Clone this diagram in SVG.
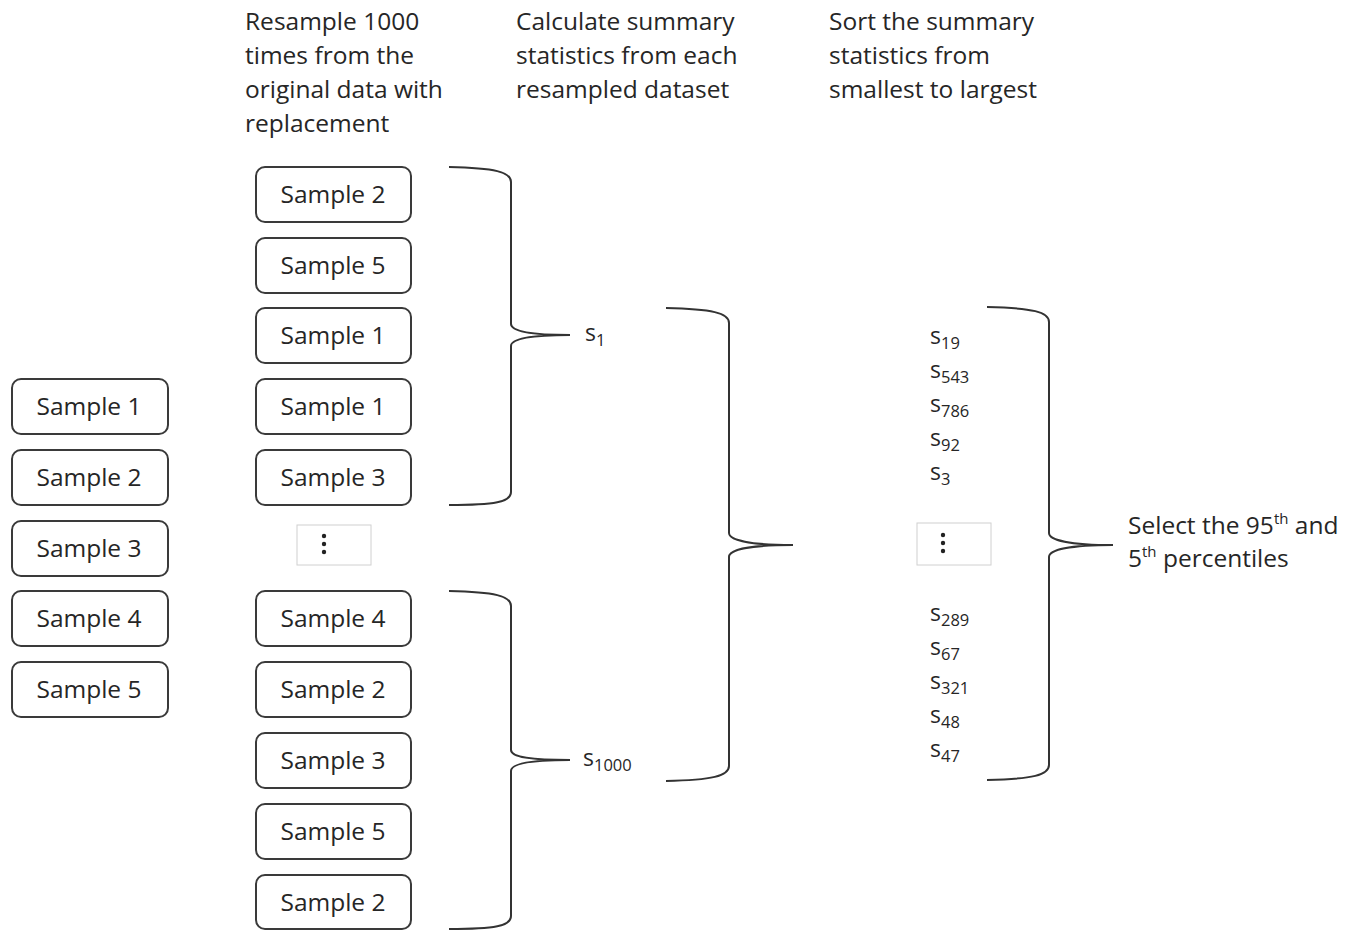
<svg xmlns="http://www.w3.org/2000/svg" width="1363" height="930" viewBox="0 0 1363 930">
<style>
text{font-family:"Open Sans","Liberation Sans",sans-serif;fill:#262626}
.h{font-size:24.5px}
.b{font-size:24.5px;text-anchor:middle}
.s{font-size:23px}
.sub{font-size:16.5px}
.box{fill:#fff;stroke:#3a3a3a;stroke-width:2}
.dbox{fill:#fff;stroke:#d0d0d0;stroke-width:1}
.br{fill:none;stroke:#333;stroke-width:2}
</style>
<rect width="1363" height="930" fill="#fff"/>
<g id="headers">
<text class="h" x="245" y="30">Resample 1000</text>
<text class="h" x="245" y="64">times from the</text>
<text class="h" x="245" y="98">original data with</text>
<text class="h" x="245" y="132">replacement</text>
<text class="h" x="516" y="30">Calculate summary</text>
<text class="h" x="516" y="64">statistics from each</text>
<text class="h" x="516" y="98">resampled dataset</text>
<text class="h" x="829" y="30">Sort the summary</text>
<text class="h" x="829" y="64">statistics from</text>
<text class="h" x="829" y="98">smallest to largest</text>
</g>
<g id="original">
<g id="o1"><rect class="box" x="12" y="379" width="156" height="55" rx="9"/><text class="b" x="89" y="415">Sample 1</text></g>
<g id="o2"><rect class="box" x="12" y="450" width="156" height="55" rx="9"/><text class="b" x="89" y="486">Sample 2</text></g>
<g id="o3"><rect class="box" x="12" y="521" width="156" height="55" rx="9"/><text class="b" x="89" y="557">Sample 3</text></g>
<g id="o4"><rect class="box" x="12" y="591" width="156" height="55" rx="9"/><text class="b" x="89" y="627">Sample 4</text></g>
<g id="o5"><rect class="box" x="12" y="662" width="156" height="55" rx="9"/><text class="b" x="89" y="698">Sample 5</text></g>
</g>
<g id="resampled">
<g id="r1"><rect class="box" x="256" y="167" width="155" height="55" rx="9"/><text class="b" x="333" y="203">Sample 2</text></g>
<g id="r2"><rect class="box" x="256" y="238" width="155" height="55" rx="9"/><text class="b" x="333" y="274">Sample 5</text></g>
<g id="r3"><rect class="box" x="256" y="308" width="155" height="55" rx="9"/><text class="b" x="333" y="344">Sample 1</text></g>
<g id="r4"><rect class="box" x="256" y="379" width="155" height="55" rx="9"/><text class="b" x="333" y="415">Sample 1</text></g>
<g id="r5"><rect class="box" x="256" y="450" width="155" height="55" rx="9"/><text class="b" x="333" y="486">Sample 3</text></g>
<g id="rdots"><rect class="dbox" x="297" y="525" width="74" height="40"/><circle cx="324" cy="536" r="2.2" fill="#222"/><circle cx="324" cy="544" r="2.2" fill="#222"/><circle cx="324" cy="552" r="2.2" fill="#222"/></g>
<g id="r6"><rect class="box" x="256" y="591" width="155" height="55" rx="9"/><text class="b" x="333" y="627">Sample 4</text></g>
<g id="r7"><rect class="box" x="256" y="662" width="155" height="55" rx="9"/><text class="b" x="333" y="698">Sample 2</text></g>
<g id="r8"><rect class="box" x="256" y="733" width="155" height="55" rx="9"/><text class="b" x="333" y="769">Sample 3</text></g>
<g id="r9"><rect class="box" x="256" y="804" width="155" height="55" rx="9"/><text class="b" x="333" y="840">Sample 5</text></g>
<g id="r10"><rect class="box" x="256" y="875" width="155" height="54" rx="9"/><text class="b" x="333" y="911">Sample 2</text></g>
</g>
<g id="connectors">
<path class="br" d="M449,167 C495,168 511,172 511,182 L511,324 C511,331 530,335 570,335 C530,335 511,339 511,346 L511,492 C511,502 495,505 449,505"/>
<path class="br" d="M449,591 C495,592 511,596 511,606 L511,750 C511,757 530,760 570,760 C530,760 511,764 511,771 L511,916 C511,926 495,929 449,929"/>
<path class="br" d="M666,308 C712,309 729,313 729,323 L729,533 C729,540 750,545 793,545 C750,545 729,550 729,557 L729,766 C729,776 712,780 666,781"/>
<path class="br" d="M987,307 C1033,308 1049,312 1049,322 L1049,533 C1049,540 1070,545 1113,545 C1070,545 1049,550 1049,557 L1049,765 C1049,775 1033,779 987,780"/>
</g>
<g id="stats">
<text class="s" x="585" y="341">s<tspan class="sub" dy="5">1</tspan></text>
<text class="s" x="583" y="766">s<tspan class="sub" dy="5">1000</tspan></text>
</g>
<g id="sorted">
<text class="s" x="930" y="344">s<tspan class="sub" dy="5">19</tspan></text>
<text class="s" x="930" y="378">s<tspan class="sub" dy="5">543</tspan></text>
<text class="s" x="930" y="412">s<tspan class="sub" dy="5">786</tspan></text>
<text class="s" x="930" y="446">s<tspan class="sub" dy="5">92</tspan></text>
<text class="s" x="930" y="480">s<tspan class="sub" dy="5">3</tspan></text>
<g id="sdots"><rect class="dbox" x="917" y="523" width="74" height="42"/><circle cx="943" cy="535" r="2.2" fill="#222"/><circle cx="943" cy="543" r="2.2" fill="#222"/><circle cx="943" cy="551" r="2.2" fill="#222"/></g>
<text class="s" x="930" y="621">s<tspan class="sub" dy="5">289</tspan></text>
<text class="s" x="930" y="655">s<tspan class="sub" dy="5">67</tspan></text>
<text class="s" x="930" y="689">s<tspan class="sub" dy="5">321</tspan></text>
<text class="s" x="930" y="723">s<tspan class="sub" dy="5">48</tspan></text>
<text class="s" x="930" y="757">s<tspan class="sub" dy="5">47</tspan></text>
</g>
<g id="result">
<text class="h" x="1128" y="534">Select the 95<tspan font-size="15" dy="-10">th</tspan><tspan dy="10"> and</tspan></text>
<text class="h" x="1128" y="567">5<tspan font-size="15" dy="-10">th</tspan><tspan dy="10"> percentiles</tspan></text>
</g>
</svg>
